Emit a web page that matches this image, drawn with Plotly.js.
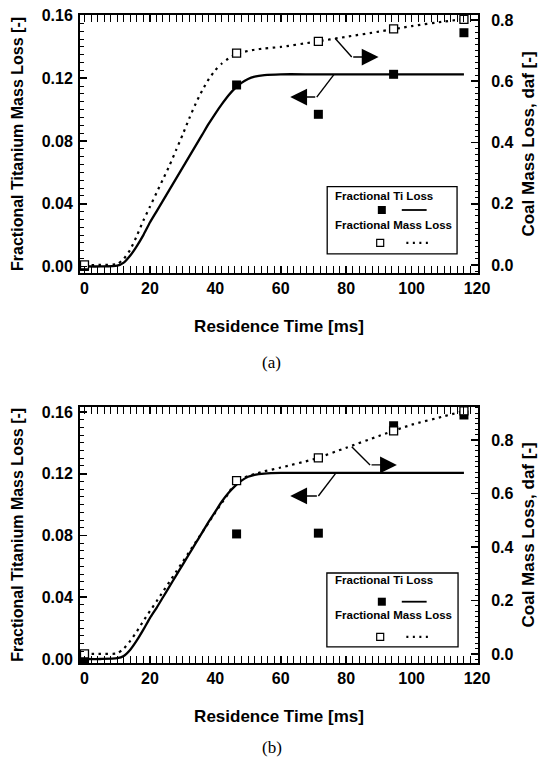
<!DOCTYPE html>
<html><head><meta charset="utf-8">
<script src="https://cdn.plot.ly/plotly-3.0.1.min.js"></script>
<style>html,body{margin:0;padding:0;background:#fff}#chart{width:542px;height:761px}</style>
</head><body><div id="chart"></div>
<script>
// ---------- data ----------
const modelTime = [0,5,10,12,14,16,18,20,22,24,26,28,30,32,34,36,38,40,42,44,46,48,50,52,55,60,70,80,90,100,110,116];
const tiModelA   = [0,0,0.0005,0.0025,0.007,0.013,0.02,0.028,0.035,0.042,0.049,0.056,0.063,0.07,0.077,0.084,0.091,0.0975,0.1035,0.109,0.1135,0.117,0.1195,0.121,0.122,0.1225,0.1225,0.1225,0.1225,0.1225,0.1225,0.1225];
const massModelA = [0,0,0.003,0.02,0.05,0.095,0.145,0.19,0.235,0.28,0.325,0.375,0.425,0.478,0.527,0.57,0.607,0.636,0.658,0.674,0.686,0.694,0.699,0.703,0.707,0.712,0.728,0.745,0.762,0.78,0.795,0.803];
const tiModelB   = [0,0,0.0005,0.002,0.006,0.012,0.019,0.0265,0.033,0.04,0.047,0.054,0.061,0.068,0.075,0.082,0.089,0.0955,0.102,0.1075,0.112,0.1155,0.118,0.1193,0.1201,0.1205,0.1205,0.1205,0.1205,0.1205,0.1205,0.1205];
const massModelB = [0,0,0.002,0.02,0.049,0.084,0.123,0.16,0.196,0.233,0.27,0.307,0.344,0.381,0.418,0.455,0.492,0.529,0.565,0.6,0.64,0.655,0.665,0.673,0.683,0.697,0.728,0.771,0.815,0.857,0.889,0.909];
const expTime  = [0,46.5,71.5,94.5,116];
const tiExpA   = [0,0.1157,0.097,0.1225,0.149];
const massExpA = [0,0.692,0.73,0.771,0.802];
const tiExpB   = [0,0.081,0.0815,0.151,0.158];
const massExpB = [0,0.648,0.733,0.834,0.909];
const xTitle = 'Residence Time [ms]';
const yLeftTitle = 'Fractional Titanium Mass Loss [-]';
const yRightTitle = 'Coal Mass Loss, daf [-]';
const legendTi = 'Fractional Ti Loss';
const legendMass = 'Fractional Mass Loss';
const captions = ['(a)', '(b)'];

// ---------- styling ----------
const FONT = 'Liberation Sans, Arial, sans-serif';
const tickFont = {family: FONT, size: 16, color: '#000', weight: 700};
const titleFont = {family: FONT, size: 17, color: '#000', weight: 700};
const DOT = '2.5px,4.5px';

function curve(x, y, ya, dash, xa) {
  return {x: x, y: y, xaxis: xa, yaxis: ya, mode: 'lines', line: {color: '#000', width: dash ? 2.2 : 2.3, dash: dash || 'solid', shape: 'spline', smoothing: 0.6}, showlegend: false, hoverinfo: 'skip'};
}
function pts(x, y, ya, open, xa) {
  return {x: x, y: y, xaxis: xa, yaxis: ya, mode: 'markers', showlegend: false,
    marker: {symbol: 'square', size: open ? 8 : 9, color: open ? '#fff' : '#000', line: {color: '#000', width: open ? 1.3 : 0}}};
}
const traces = [
  curve(modelTime, massModelA, 'y2', DOT, 'x'),
  curve(modelTime, tiModelA, 'y', null, 'x'),
  pts(expTime, massExpA, 'y2', true, 'x'),
  pts(expTime, tiExpA, 'y', false, 'x'),
  curve(modelTime, massModelB, 'y4', DOT, 'x2'),
  curve(modelTime, tiModelB, 'y3', null, 'x2'),
  pts(expTime, massExpB, 'y4', true, 'x2'),
  pts(expTime, tiExpB, 'y3', false, 'x2')
];

function xAxis(anchor) {
  return {anchor: anchor, domain: [0, 1], range: [-1.37, 120.3], tick0: 0, dtick: 20,
    ticks: 'inside', ticklen: 7, tickwidth: 1.6, tickcolor: '#000',
    minor: {dtick: 2, ticks: 'inside', ticklen: 3.5, tickwidth: 1, tickcolor: '#000'},
    showline: true, linewidth: 2, linecolor: '#000', mirror: 'allticks',
    showgrid: false, zeroline: false, tickfont: tickFont,
    title: {text: xTitle, font: titleFont, standoff: 24}};
}
function yLeft(domain, range, anchor) {
  return {anchor: anchor, domain: domain, range: range, tick0: 0, dtick: 0.04, tickformat: '.2f',
    ticks: 'inside', ticklen: 7, tickwidth: 1.6, tickcolor: '#000',
    minor: {dtick: 0.005, ticks: 'inside', ticklen: 3.5, tickwidth: 1, tickcolor: '#000'},
    showline: true, linewidth: 2, linecolor: '#000', mirror: false,
    showgrid: false, zeroline: false, tickfont: tickFont, ticklabelstandoff: 2,
    title: {text: yLeftTitle, font: {family: FONT, size: 16, color: '#000', weight: 700}, standoff: 14}};
}
function yRight(over, range, anchor) {
  return {overlaying: over, anchor: anchor, side: 'right', range: range, tick0: 0, dtick: 0.2, tickformat: '.1f',
    ticks: 'inside', ticklen: 7, tickwidth: 1.6, tickcolor: '#000',
    minor: {dtick: 0.02, ticks: 'inside', ticklen: 3.5, tickwidth: 1, tickcolor: '#000'},
    showline: true, linewidth: 2, linecolor: '#000',
    showgrid: false, zeroline: false, tickfont: tickFont, ticklabelstandoff: 8,
    title: {text: yRightTitle, font: titleFont, standoff: 10}};
}

// arrows: [start, bend, tip]
function bentArrow(xr, yr, sx, sy, bx, by, tx, ty, shapes, anns) {
  shapes.push({type: 'line', xref: xr, yref: yr, x0: sx, y0: sy, x1: bx, y1: by, line: {color: '#000', width: 1.4}});
  anns.push({xref: xr, yref: yr, axref: xr, ayref: yr, x: tx, y: ty, ax: bx, ay: by, text: '', showarrow: true,
    arrowhead: 2, arrowsize: 2.4, arrowwidth: 1.4, arrowcolor: '#000', standoff: 0, startstandoff: 0});
}
function legendBox(xr, yr, box, t1y, sq1y, t2y, sq2y, shapes, anns) {
  shapes.push({type: 'rect', xref: xr, yref: yr, x0: box[0], x1: box[1], y0: box[2], y1: box[3], line: {color: '#000', width: 1.3}, fillcolor: '#fff'});
  anns.push({xref: xr, yref: yr, x: 75.9, y: t1y, xanchor: 'left', yanchor: 'middle', text: legendTi, showarrow: false, font: {family: FONT, size: 11.5, color: '#000', weight: 700}});
  anns.push({xref: xr, yref: yr, x: 75.9, y: t2y, xanchor: 'left', yanchor: 'middle', text: legendMass, showarrow: false, font: {family: FONT, size: 11.5, color: '#000', weight: 700}});
  shapes.push({type: 'rect', xref: xr, yref: yr, xsizemode: 'pixel', ysizemode: 'pixel', xanchor: 90.9, yanchor: sq1y, x0: -4, x1: 4, y0: -4, y1: 4, fillcolor: '#000', line: {width: 0}});
  shapes.push({type: 'line', xref: xr, yref: yr, x0: 97, x1: 104.6, y0: sq1y, y1: sq1y, line: {color: '#000', width: 1.8}});
  shapes.push({type: 'rect', xref: xr, yref: yr, xsizemode: 'pixel', ysizemode: 'pixel', xanchor: 90.4, yanchor: sq2y, x0: -3.5, x1: 3.5, y0: -3.5, y1: 3.5, fillcolor: '#fff', line: {color: '#000', width: 1.2}});
  shapes.push({type: 'line', xref: xr, yref: yr, x0: 98.4, x1: 106.2, y0: sq2y, y1: sq2y, line: {color: '#000', width: 2.2, dash: '2px,4.5px'}});
}

const shapes = [], anns = [];
bentArrow('x', 'y', 76.6, 0.1455, 81.7, 0.1335, 89.9, 0.1335, shapes, anns);
bentArrow('x', 'y', 76.3, 0.1225, 71.0, 0.108, 62.9, 0.108, shapes, anns);
bentArrow('x2', 'y3', 81.7, 0.1375, 87.3, 0.1257, 95.5, 0.1257, shapes, anns);
bentArrow('x2', 'y3', 76.9, 0.1205, 71.5, 0.1056, 62.9, 0.1056, shapes, anns);
legendBox('x', 'y', [74.2, 113.9, 0.008, 0.0509], 0.0447, 0.036, 0.0265, 0.015, shapes, anns);
legendBox('x2', 'y3', [74.1, 114.2, 0.0078, 0.0557], 0.0512, 0.0371, 0.0285, 0.0143, shapes, anns);
anns.push({xref: 'paper', yref: 'paper', x: 0.482, y: 0.463, yanchor: 'middle', text: captions[0], showarrow: false, font: {family: 'Liberation Serif, Times New Roman, serif', size: 17, color: '#000'}});
anns.push({xref: 'paper', yref: 'paper', x: 0.482, y: -0.131, yanchor: 'middle', text: captions[1], showarrow: false, font: {family: 'Liberation Serif, Times New Roman, serif', size: 17, color: '#000'}});

const layout = {
  width: 542, height: 761, margin: {l: 80, r: 64, t: 15, b: 98},
  paper_bgcolor: '#fff', plot_bgcolor: '#fff', showlegend: false,
  font: {family: FONT, color: '#000'},
  xaxis: xAxis('y'),
  yaxis: yLeft([0.602, 1], [-0.0041, 0.1603], 'x'),
  yaxis2: yRight('y', [-0.026, 0.8163], 'x'),
  xaxis2: xAxis('y3'),
  yaxis3: yLeft([0, 0.3955], [-0.0026, 0.1634], 'x2'),
  yaxis4: yRight('y3', [-0.034, 0.9245], 'x2'),
  shapes: shapes, annotations: anns
};
Plotly.newPlot('chart', traces, layout, {staticPlot: true, displayModeBar: false});
</script></body></html>
